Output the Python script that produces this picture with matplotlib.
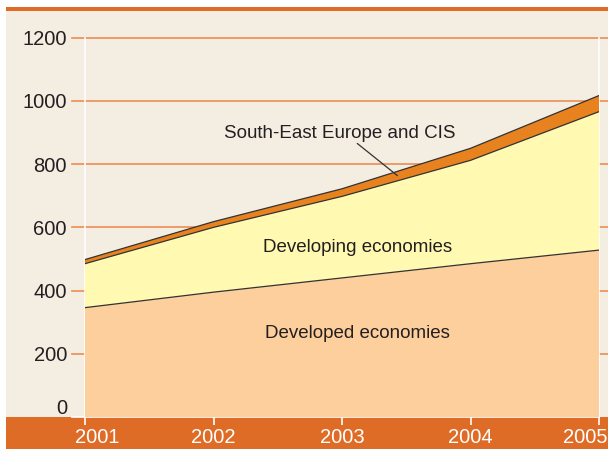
import matplotlib
matplotlib.use("Agg")
import matplotlib.pyplot as plt
import matplotlib.transforms as mtransforms
from matplotlib.patches import Rectangle
import numpy as np

years = [2001, 2002, 2003, 2004, 2005]
developed = [346, 395, 440, 485, 528]
developing = [139, 205, 258, 327, 438]
see_cis = [13, 18, 24, 38, 51]
y_ticks = [0, 200, 400, 600, 800, 1000, 1200]

BG = "#f3ede2"
BAND = "#de6b26"
GRID = "#ec8c55"
C_DEV = "#fdcf9c"
C_DEVING = "#fff9b1"
C_SEE = "#e8821f"
TXT = "#231f20"

plt.rcParams["font.family"] = ["Liberation Sans", "DejaVu Sans"]

fig = plt.figure(figsize=(6.08, 4.49), dpi=100)
fig.patch.set_facecolor("white")
W, H = 608, 449

# page background, top rule and bottom band
fig.patches.append(Rectangle((6 / W, 0), 1, 1 - 7 / H, transform=fig.transFigure,
                             facecolor=BG, edgecolor="none", zorder=-10))
fig.patches.append(Rectangle((6 / W, 1 - 11 / H), 1, 4 / H, transform=fig.transFigure,
                             facecolor=BAND, edgecolor="none", zorder=-9))
fig.patches.append(Rectangle((6 / W, 0), 1, 32 / H, transform=fig.transFigure,
                             facecolor=BAND, edgecolor="none", zorder=-9))

ax = fig.add_axes([85 / W, 32 / H, 514 / W, (417 - 37.7) / H])
ax.set_facecolor("none")
ax.set_xlim(2001, 2005)
ax.set_ylim(0, 1200)

# horizontal guide lines extending past the plot edges
ytr = ax.get_yaxis_transform()
for v in y_ticks[1:]:
    ax.plot([-13 / 514, (608 - 85) / 514], [v, v], transform=ytr, color=GRID,
            lw=1.2, clip_on=False, zorder=0)

dev = np.array(developed)
deving = dev + np.array(developing)
total = deving + np.array(see_cis)

ax.fill_between(years, 0, dev, facecolor=C_DEV, edgecolor="none", zorder=2)
ax.fill_between(years, dev, deving, facecolor=C_DEVING, edgecolor="none", zorder=2)
ax.fill_between(years, deving, total, facecolor=C_SEE, edgecolor="none", zorder=2)
for s in (dev, deving, total):
    ax.plot(years, s, color="#333333", lw=0.9, zorder=3)

ax.spines["top"].set_visible(False)
for side in ("left", "right", "bottom"):
    ax.spines[side].set_color("white")
    ax.spines[side].set_linewidth(1.2)
    ax.spines[side].set_zorder(1)
ax.plot([-13 / 514, 0], [0, 0], transform=ytr, color="white", lw=1.2,
        clip_on=False, zorder=1)

ax.set_yticks(y_ticks)
ax.set_yticklabels([str(v) for v in y_ticks])
ax.tick_params(axis="y", length=0, pad=13, labelsize=14.5, labelcolor=TXT)
ax.set_xticks(years)
ax.set_xticklabels([str(y) for y in years])
ax.tick_params(axis="x", length=6, width=1.2, color="white", direction="out",
               pad=2, labelsize=14.5, labelcolor="white")

# nudge edge labels inward
xl = ax.get_xticklabels()
xl[0].set_transform(xl[0].get_transform() +
                    mtransforms.ScaledTranslation(12 / 100, 0, fig.dpi_scale_trans))
xl[-1].set_transform(xl[-1].get_transform() +
                     mtransforms.ScaledTranslation(-14 / 100, 0, fig.dpi_scale_trans))
yl = ax.get_yticklabels()
yl[0].set_transform(yl[0].get_transform() +
                    mtransforms.ScaledTranslation(0, 11 / 100, fig.dpi_scale_trans))

ax.text(2002.98, 897, "South-East Europe and CIS", ha="center", va="center",
        fontsize=13.5, color=TXT, zorder=5)
ax.plot([2003.12, 2003.43], [865, 764], color="#333333", lw=0.9, zorder=5)
ax.text(2003.12, 537, "Developing economies", ha="center", va="center",
        fontsize=13.5, color=TXT, zorder=5)
ax.text(2003.12, 265, "Developed economies", ha="center", va="center",
        fontsize=13.5, color=TXT, zorder=5)

fig.savefig("out.png", dpi=100, facecolor=fig.get_facecolor())
